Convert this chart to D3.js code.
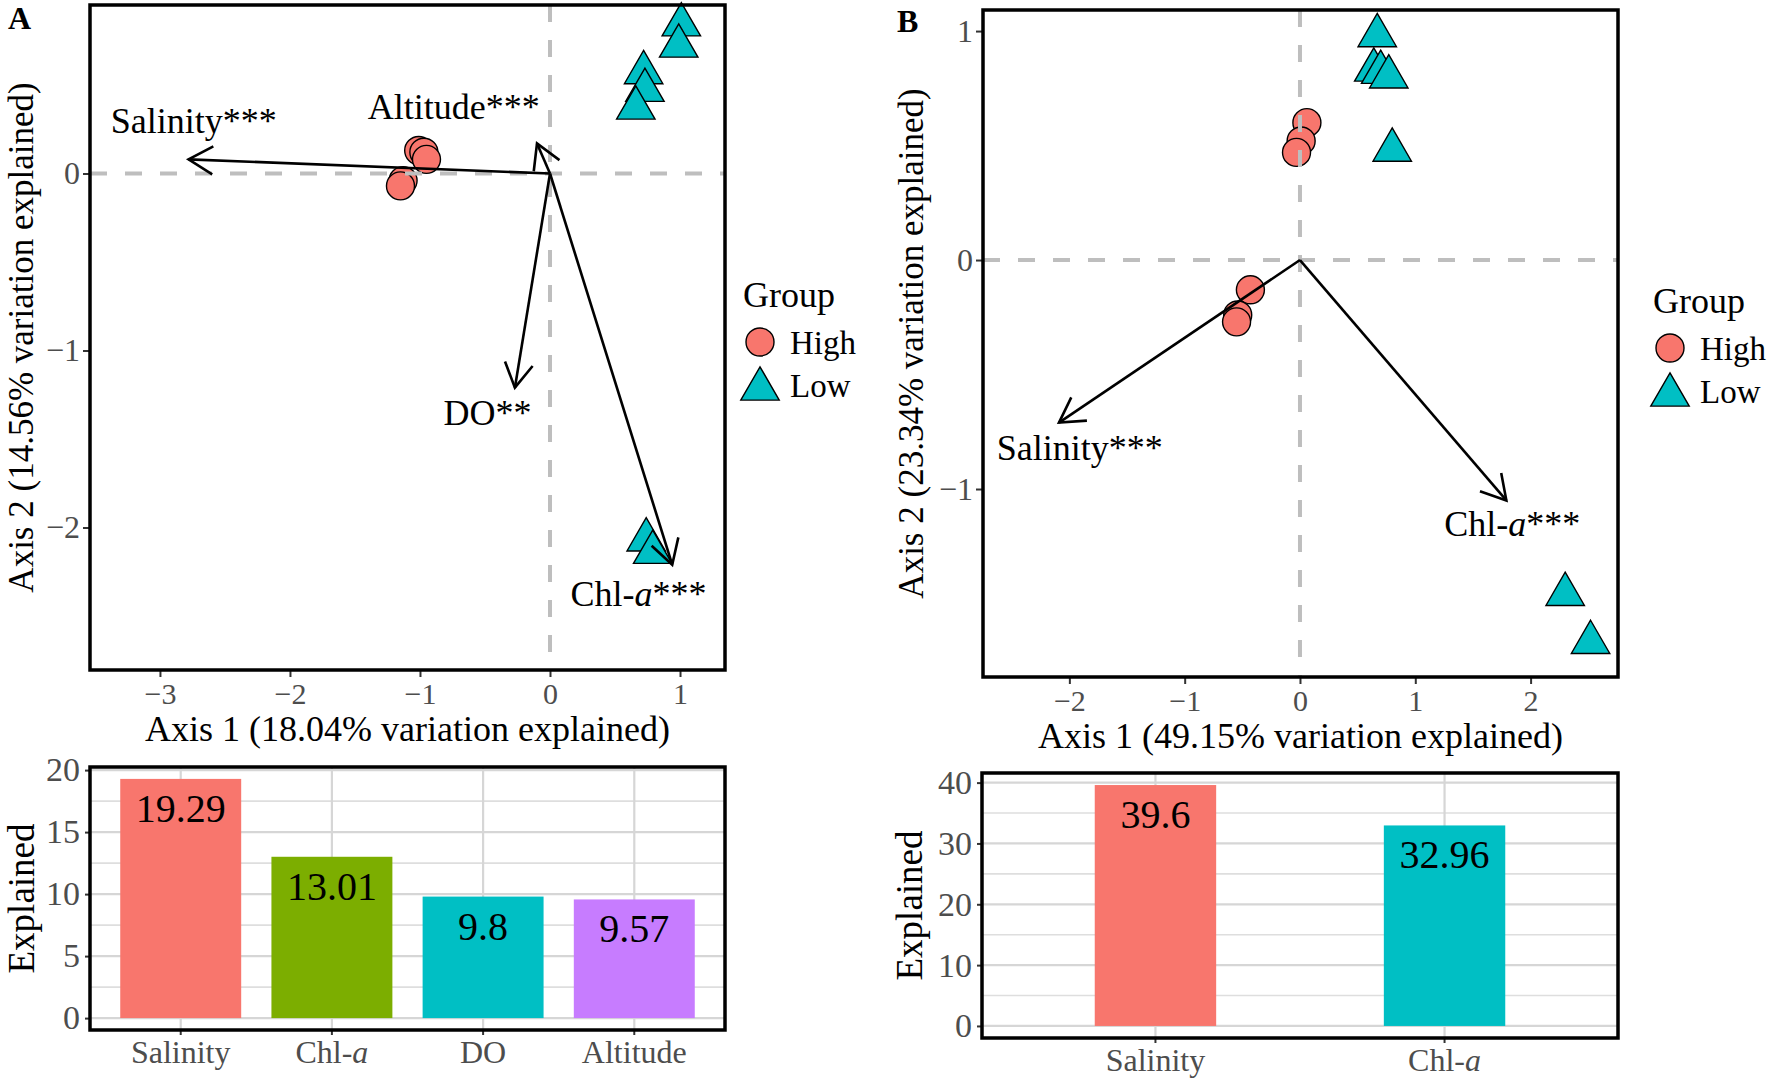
<!DOCTYPE html>
<html>
<head>
<meta charset="utf-8">
<script src="https://cdn.jsdelivr.net/npm/d3@7"></script>
<style>
  body { margin: 0; background: #fff; }
  svg { display: block; font-family: "Liberation Serif", "Times New Roman", serif; }
</style>
</head>
<body>
<svg id="fig" width="1771" height="1081"></svg>
<script>
// ---------- data ----------
// panel A ordination
const highA = [[-1.01, 0.13], [-0.97, 0.12], [-0.95, 0.08], [-1.13, -0.04], [-1.15, -0.07]];
const lowA = [[1.01, 0.84], [0.99, 0.72], [0.72, 0.57], [0.73, 0.47], [0.66, 0.37], [0.74, -2.07], [0.79, -2.14]];
const envA = ["Salinity***", "Altitude***", "DO**", "Chl-a***"];
const tipA = [[-2.78, 0.08], [-0.10, 0.17], [-0.27, -1.21], [0.94, -2.21]];
const labelA = [[-2.74, 0.30], [-0.74, 0.38], [-0.48, -1.35], [0.68, -2.375]];
const xTicksA = [-3, -2, -1, 0, 1];
const yTicksA = [-2, -1, 0];

// panel B ordination
const highB = [[0.06, 0.60], [0.01, 0.52], [-0.03, 0.47], [-0.43, -0.13], [-0.54, -0.24], [-0.55, -0.27]];
const lowB = [[0.67, 0.98], [0.64, 0.83], [0.70, 0.82], [0.77, 0.80], [0.80, 0.48], [2.30, -1.46], [2.52, -1.67]];
const envB = ["Salinity***", "Chl-a***"];
const tipB = [[-2.09, -0.71], [1.79, -1.05]];
const labelB = [[-1.91, -0.82], [1.84, -1.15]];
const xTicksB = [-2, -1, 0, 1, 2];
const yTicksB = [-1, 0, 1];

// explained variation bars
const barCatsA = ["Salinity", "Chl-a", "DO", "Altitude"];
const barValsA = [19.29, 13.01, 9.8, 9.57];
const barColsA = ["#F8766D", "#7CAE00", "#00BFC4", "#C77CFF"];
const barTicksA = [0, 5, 10, 15, 20];
const barMinorA = [2.5, 7.5, 12.5, 17.5];

const barCatsB = ["Salinity", "Chl-a"];
const barValsB = [39.6, 32.96];
const barColsB = ["#F8766D", "#00BFC4"];
const barTicksB = [0, 10, 20, 30, 40];
const barMinorB = [5, 15, 25, 35];

const groups = ["High", "Low"];
const groupFill = { High: "#F8766D", Low: "#00BFC4" };

// ---------- helpers ----------
const svg = d3.select("#fig");
const minus = v => String(v).replace("-", "\u2212");

function richText(sel, s) {
  sel.text(null);
  const m = s.match(/^(.*Chl-)(a)(.*)$/);
  if (m) {
    sel.append("tspan").text(m[1]);
    sel.append("tspan").attr("font-style", "italic").text(m[2]);
    sel.append("tspan").text(m[3]);
  } else sel.text(s);
}

const triPath = d3.symbol().type(d3.symbolTriangle).size(640)();

function drawPoint(g, shape, cx, cy) {
  if (shape === "High") {
    g.append("circle").attr("cx", cx).attr("cy", cy).attr("r", 14)
      .attr("fill", groupFill.High).attr("stroke", "#000").attr("stroke-width", 1.4);
  } else {
    g.append("path").attr("d", triPath).attr("transform", `translate(${cx},${cy})`)
      .attr("fill", groupFill.Low).attr("stroke", "#000").attr("stroke-width", 1.4);
  }
}

function styleAxis(ax, size, color) {
  ax.select(".domain").remove();
  ax.selectAll(".tick line").attr("stroke", "#333").attr("stroke-width", 2);
  ax.selectAll(".tick text").attr("font-size", size).attr("fill", color)
    .attr("font-family", "Liberation Serif, serif");
}

function frame(g, o) {
  g.append("rect").attr("x", o.l).attr("y", o.t).attr("width", o.r - o.l).attr("height", o.b - o.t)
    .attr("fill", "none").attr("stroke", "#000").attr("stroke-width", 3.5);
}

// ---------- ordination panel ----------
function scatter(o) {
  const g = svg.append("g");
  const x = d3.scaleLinear().domain(o.xd).range([o.l, o.r]);
  const y = d3.scaleLinear().domain(o.yd).range([o.b, o.t]);

  o.high.forEach(d => drawPoint(g, "High", x(d[0]), y(d[1])));
  o.low.forEach(d => drawPoint(g, "Low", x(d[0]), y(d[1])));

  // reference lines
  g.append("line").attr("x1", x(0)).attr("x2", x(0)).attr("y1", o.t).attr("y2", o.b)
    .attr("stroke", "#bebebe").attr("stroke-width", 4).attr("stroke-dasharray", "17,18");
  g.append("line").attr("x1", o.l).attr("x2", o.r).attr("y1", y(0)).attr("y2", y(0))
    .attr("stroke", "#bebebe").attr("stroke-width", 4).attr("stroke-dasharray", "17,18");

  // env arrows
  o.tips.forEach((t, i) => {
    const x0 = x(0), y0 = y(0), x1 = x(t[0]), y1 = y(t[1]);
    const ang = Math.atan2(y1 - y0, x1 - x0);
    const L = 28, a = Math.PI / 6;
    g.append("line").attr("x1", x0).attr("y1", y0).attr("x2", x1).attr("y2", y1)
      .attr("stroke", "#000").attr("stroke-width", 2.6);
    const b1 = [x1 - L * Math.cos(ang - a), y1 - L * Math.sin(ang - a)];
    const b2 = [x1 - L * Math.cos(ang + a), y1 - L * Math.sin(ang + a)];
    g.append("path").attr("d", `M${b1[0]},${b1[1]}L${x1},${y1}L${b2[0]},${b2[1]}`)
      .attr("fill", "none").attr("stroke", "#000").attr("stroke-width", 2.6);
    const lab = g.append("text").attr("x", x(o.labels[i][0])).attr("y", y(o.labels[i][1]))
      .attr("dy", "0.35em").attr("text-anchor", "middle").attr("font-size", 36).attr("fill", "#000");
    richText(lab, o.env[i]);
  });

  const ax = g.append("g").attr("transform", `translate(0,${o.b})`)
    .call(d3.axisBottom(x).tickValues(o.xt).tickSize(7).tickPadding(6).tickFormat(minus));
  styleAxis(ax, 30, "#4d4d4d");
  const ay = g.append("g").attr("transform", `translate(${o.l},0)`)
    .call(d3.axisLeft(y).tickValues(o.yt).tickSize(7).tickPadding(3).tickFormat(minus));
  styleAxis(ay, 32, "#4d4d4d");

  g.append("text").attr("x", (o.l + o.r) / 2).attr("y", o.b + 71).attr("text-anchor", "middle")
    .attr("font-size", 36).text(o.xTitle);
  g.append("text").attr("transform", `translate(${o.yTitleX},${(o.t + o.b) / 2}) rotate(-90)`)
    .attr("text-anchor", "middle").attr("font-size", 35).text(o.yTitle);

  frame(g, o);

  // legend
  const lg = svg.append("g").attr("transform", `translate(${o.lgX},${o.lgY})`);
  lg.append("text").attr("x", 0).attr("y", 0).attr("font-size", 36).text("Group");
  groups.forEach((k, i) => {
    const cy = 35 + i * 43;
    drawPoint(lg, k, 17, k === "High" ? cy : cy + 4);
    lg.append("text").attr("x", 47).attr("y", cy).attr("dy", "0.35em").attr("font-size", 33).text(k);
  });
}

// ---------- bar panel ----------
function bars(o) {
  const g = svg.append("g");
  const p = o.inner;
  const x = d3.scaleBand().domain(o.cats).range([o.l, o.r])
    .paddingInner(p).paddingOuter(0.6 - (1 - p) / 2);
  const y = d3.scaleLinear().domain(o.yd).range([o.b, o.t]);

  g.selectAll(".minor").data(o.minor).join("line")
    .attr("x1", o.l).attr("x2", o.r).attr("y1", d => y(d)).attr("y2", d => y(d))
    .attr("stroke", "#dedede").attr("stroke-width", 1.6);
  g.selectAll(".major").data(o.ticks).join("line")
    .attr("x1", o.l).attr("x2", o.r).attr("y1", d => y(d)).attr("y2", d => y(d))
    .attr("stroke", "#d6d6d6").attr("stroke-width", 2.2);
  g.selectAll(".vg").data(o.cats).join("line")
    .attr("x1", d => x(d) + x.bandwidth() / 2).attr("x2", d => x(d) + x.bandwidth() / 2)
    .attr("y1", o.t).attr("y2", o.b).attr("stroke", "#d6d6d6").attr("stroke-width", 2.2);

  g.selectAll(".bar").data(o.vals).join("rect")
    .attr("x", (d, i) => x(o.cats[i])).attr("width", x.bandwidth())
    .attr("y", d => y(d)).attr("height", d => y(0) - y(d))
    .attr("fill", (d, i) => o.cols[i]);

  g.selectAll(".val").data(o.vals).join("text")
    .attr("x", (d, i) => x(o.cats[i]) + x.bandwidth() / 2).attr("y", d => y(d) + 43)
    .attr("text-anchor", "middle").attr("font-size", 40).attr("fill", "#000").text(d => d);

  const ax = g.append("g").attr("transform", `translate(0,${o.b})`)
    .call(d3.axisBottom(x).tickSize(5).tickPadding(5));
  styleAxis(ax, 32, "#4d4d4d");
  ax.selectAll(".tick text").each(function (d) { richText(d3.select(this), d); });
  const ay = g.append("g").attr("transform", `translate(${o.l},0)`)
    .call(d3.axisLeft(y).tickValues(o.ticks).tickSize(5).tickPadding(5));
  styleAxis(ay, 34, "#4d4d4d");

  g.append("text").attr("transform", `translate(${o.yTitleX},${(o.t + o.b) / 2}) rotate(-90)`)
    .attr("text-anchor", "middle").attr("font-size", 37).text("Explained");

  frame(g, o);
}

scatter({
  l: 90, r: 725, t: 5, b: 670, xd: [-3.538, 1.346], yd: [-2.805, 0.952],
  high: highA, low: lowA, tips: tipA, labels: labelA, env: envA, xt: xTicksA, yt: yTicksA,
  xTitle: "Axis 1 (18.04% variation explained)", yTitle: "Axis 2 (14.56% variation explained)",
  yTitleX: 33, lgX: 743, lgY: 307
});
scatter({
  l: 983, r: 1618, t: 10, b: 677, xd: [-2.749, 2.758], yd: [-1.821, 1.092],
  high: highB, low: lowB, tips: tipB, labels: labelB, env: envB, xt: xTicksB, yt: yTicksB,
  xTitle: "Axis 1 (49.15% variation explained)", yTitle: "Axis 2 (23.34% variation explained)",
  yTitleX: 923, lgX: 1653, lgY: 313
});
bars({
  l: 90, r: 725, t: 767, b: 1030, yd: [-0.96, 20.25], inner: 0.2,
  cats: barCatsA, vals: barValsA, cols: barColsA, ticks: barTicksA, minor: barMinorA, yTitleX: 34
});
bars({
  l: 982, r: 1618, t: 773, b: 1038, yd: [-1.98, 41.58], inner: 0.58,
  cats: barCatsB, vals: barValsB, cols: barColsB, ticks: barTicksB, minor: barMinorB, yTitleX: 922
});

svg.append("text").attr("x", 8).attr("y", 29).attr("font-size", 32).attr("font-weight", "bold").text("A");
svg.append("text").attr("x", 897).attr("y", 32).attr("font-size", 32).attr("font-weight", "bold").text("B");
</script>
</body>
</html>
